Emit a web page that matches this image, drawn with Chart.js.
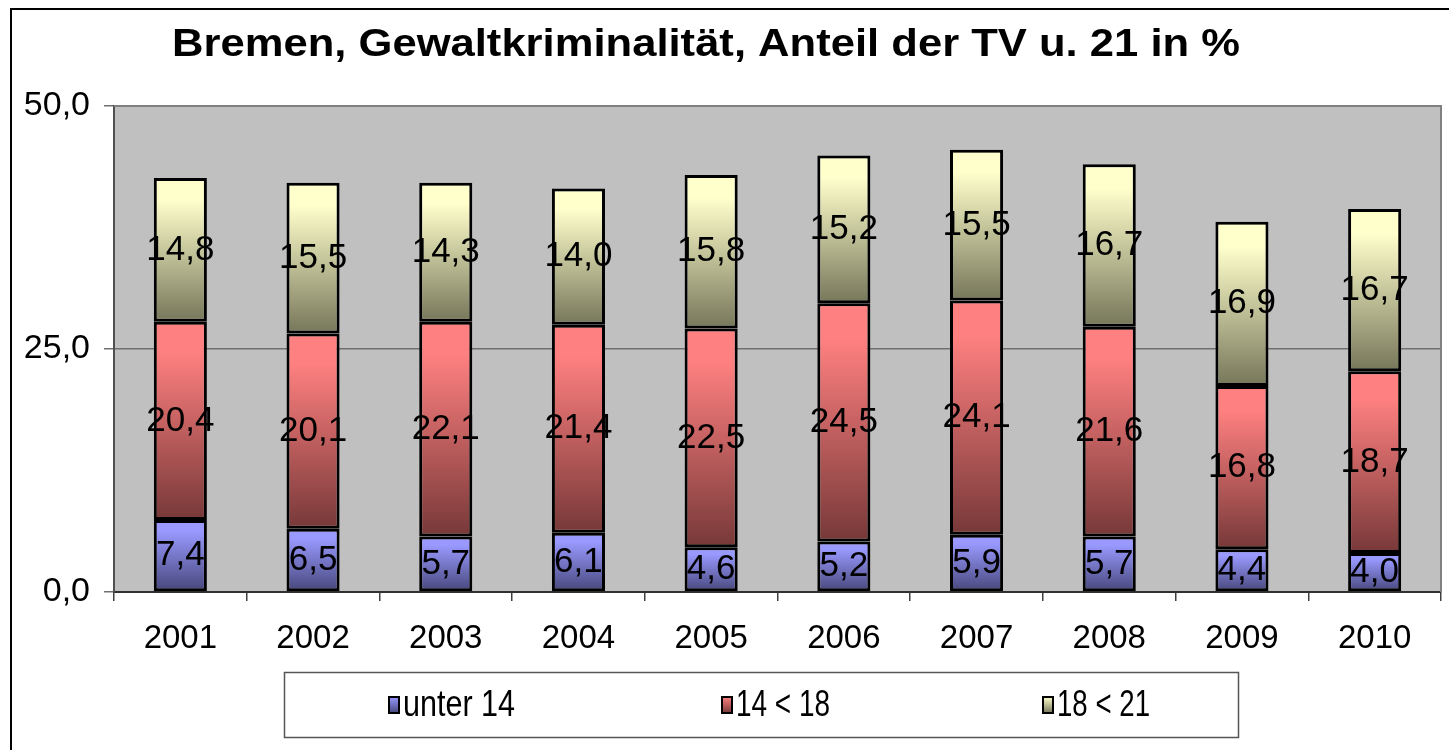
<!DOCTYPE html>
<html>
<head>
<meta charset="utf-8">
<script src="https://cdn.jsdelivr.net/npm/chart.js@4.4.1/dist/chart.umd.min.js"></script>
<style>
  html, body { margin: 0; padding: 0; background: #fff; }
  canvas { display: block; }
</style>
</head>
<body>
<canvas id="chart" width="1449" height="750"></canvas>
<script>
// --- Daten ---
const jahre = ['2001', '2002', '2003', '2004', '2005', '2006', '2007', '2008', '2009', '2010'];
const unter14 = [7.4, 6.5, 5.7, 6.1, 4.6, 5.2, 5.9, 5.7, 4.4, 4.0];
const von14bis18 = [20.4, 20.1, 22.1, 21.4, 22.5, 24.5, 24.1, 21.6, 16.8, 18.7];
const von18bis21 = [14.8, 15.5, 14.3, 14.0, 15.8, 15.2, 15.5, 16.7, 16.9, 16.7];
const serienNamen = ['unter 14', '14 < 18', '18 < 21'];
const yTicks = [0, 25, 50];

const titel = 'Bremen, Gewaltkriminalität, Anteil der TV u. 21 in %';

// Farbverläufe (hell oben, dunkel unten)
const farben = [
  { hell: '#9999FF', dunkel: '#46467A' },
  { hell: '#FF8080', dunkel: '#773838' },
  { hell: '#FFFFCC', dunkel: '#76765A' }
];
const alleSerien = [unter14, von14bis18, von18bis21];

const fmt = v => v.toFixed(1).replace('.', ',');

function verlauf(chart, dsIndex, i) {
  const y = chart.scales.y;
  const f = farben[dsIndex];
  if (!y || y.top === undefined) return f.hell;
  let unten = 0;
  for (let k = 0; k < dsIndex; k++) unten += alleSerien[k][i];
  const oben = unten + alleSerien[dsIndex][i];
  const y0 = y.getPixelForValue(oben);
  const y1 = y.getPixelForValue(unten);
  if (!isFinite(y0) || !isFinite(y1) || y0 === y1) return f.hell;
  const g = chart.ctx.createLinearGradient(0, y0, 0, y1);
  g.addColorStop(0, f.hell);
  g.addColorStop(0.15, f.hell);
  g.addColorStop(1, f.dunkel);
  return g;
}

// Text horizontal gestreckt/gestaucht auf Zielbreite
function textBreite(ctx, txt, x, y, breite) {
  const w = ctx.measureText(txt).width;
  ctx.save();
  ctx.translate(x, y);
  ctx.scale(breite / w, 1);
  ctx.fillText(txt, 0, 0);
  ctx.restore();
}

// Rahmen, Hintergrund, Titel
const rahmenPlugin = {
  id: 'rahmen',
  beforeDraw(chart) {
    const { ctx, chartArea: a } = chart;
    ctx.save();
    ctx.fillStyle = '#fff';
    ctx.fillRect(0, 0, chart.width, chart.height);
    ctx.strokeStyle = '#000';
    ctx.lineWidth = 2;
    ctx.beginPath();
    ctx.moveTo(11, chart.height);
    ctx.lineTo(11, 9);
    ctx.lineTo(chart.width, 9);
    ctx.stroke();
    ctx.fillStyle = '#C0C0C0';
    ctx.fillRect(a.left, a.top, a.right - a.left, a.bottom - a.top);
    ctx.restore();
  },
  afterDraw(chart) {
    const { ctx, chartArea: a } = chart;
    ctx.save();
    // Plotrahmen rechts/oben
    ctx.strokeStyle = '#808080';
    ctx.lineWidth = 2;
    ctx.beginPath();
    ctx.moveTo(a.left, a.top);
    ctx.lineTo(a.right, a.top);
    ctx.lineTo(a.right, a.bottom);
    ctx.stroke();
    // Titel
    ctx.fillStyle = '#000';
    ctx.font = 'bold 38px "Liberation Sans", Arial, sans-serif';
    ctx.textAlign = 'center';
    ctx.textBaseline = 'middle';
    textBreite(ctx, titel, 706, 46, 1068);
    ctx.restore();
  }
};

// Werte in den Balken
const wertePlugin = {
  id: 'werte',
  afterDatasetsDraw(chart) {
    const { ctx } = chart;
    ctx.save();
    ctx.fillStyle = '#000';
    ctx.font = '35px "Liberation Sans", Arial, sans-serif';
    ctx.textAlign = 'center';
    ctx.textBaseline = 'middle';
    chart.data.datasets.forEach((ds, di) => {
      const meta = chart.getDatasetMeta(di);
      meta.data.forEach((el, i) => {
        ctx.fillText(fmt(ds.data[i]), el.x, (el.y + el.base) / 2);
      });
    });
    ctx.restore();
  }
};

// Legende im Kasten
const legendePlugin = {
  id: 'legende',
  afterDraw(chart) {
    const { ctx } = chart;
    ctx.save();
    ctx.fillStyle = '#fff';
    ctx.fillRect(284, 672, 954, 65);
    ctx.strokeStyle = '#555';
    ctx.lineWidth = 1.5;
    ctx.strokeRect(284.5, 672.5, 954, 65);
    const xs = [389, 722, 1043];
    const breiten = [112, 94, 93];
    const yc = 705;
    serienNamen.forEach((name, k) => {
      const g = ctx.createLinearGradient(0, yc - 8, 0, yc + 8);
      g.addColorStop(0, farben[k].hell);
      g.addColorStop(1, farben[k].dunkel);
      ctx.fillStyle = g;
      ctx.fillRect(xs[k], yc - 8, 10, 16);
      ctx.strokeStyle = '#000';
      ctx.lineWidth = 2;
      ctx.strokeRect(xs[k], yc - 8, 10, 16);
      ctx.fillStyle = '#000';
      ctx.font = '36px "Liberation Sans", Arial, sans-serif';
      ctx.textAlign = 'left';
      ctx.textBaseline = 'middle';
      textBreite(ctx, name.replace(' < ', '<').replace('<', ' < '), xs[k] + 14, yc + 1, breiten[k]);
    });
    ctx.restore();
  }
};

const datasets = alleSerien.map((werte, di) => ({
  label: serienNamen[di],
  data: werte,
  backgroundColor: ctx => verlauf(ctx.chart, di, ctx.dataIndex),
  borderColor: '#000',
  borderWidth: 3,
  borderSkipped: false,
  barPercentage: 0.4,
  categoryPercentage: 1.0
}));

new Chart(document.getElementById('chart'), {
  type: 'bar',
  data: { labels: jahre, datasets: datasets },
  options: {
    responsive: false,
    animation: false,
    layout: { padding: { top: 106, right: 8, left: 0, bottom: 0 } },
    plugins: {
      legend: { display: false },
      title: { display: false },
      tooltip: { enabled: false }
    },
    scales: {
      x: {
        stacked: true,
        afterFit: s => { s.height = 158; },
        grid: { drawOnChartArea: false, drawTicks: true, tickLength: 9, color: '#404040', lineWidth: 1.5 },
        border: { color: '#303030', width: 2 },
        ticks: {
          color: '#000',
          padding: 18,
          font: { family: '"Liberation Sans", Arial, sans-serif', size: 33 }
        }
      },
      y: {
        stacked: true,
        min: 0,
        max: 50,
        afterFit: s => { s.width = 114; },
        afterBuildTicks: s => { s.ticks = yTicks.map(v => ({ value: v })); },
        grid: { color: '#707070', lineWidth: 1.5, tickLength: 10 },
        border: { color: '#505050', width: 2 },
        ticks: {
          color: '#000',
          padding: 14,
          callback: v => fmt(v),
          font: { family: '"Liberation Sans", Arial, sans-serif', size: 34 }
        }
      }
    }
  },
  plugins: [rahmenPlugin, wertePlugin, legendePlugin]
});
</script>
</body>
</html>
